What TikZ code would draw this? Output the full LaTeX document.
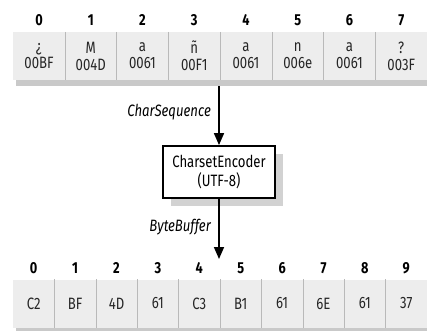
\documentclass[tikz,border=0pt]{standalone}
\usepackage{fontspec}
\setmainfont{Fira Sans}[FakeStretch=0.8]
\usetikzlibrary{arrows.meta}
\tikzset{
  cell/.style={fill=gray!14, draw=none, minimum height=48bp, inner sep=0pt, align=center,
    font=\fontsize{16.5}{17}\selectfont, text=black!85},
  tcell/.style={cell, minimum width=51.75bp},
  bcell/.style={cell, minimum width=41.4bp},
  idx/.style={font=\fontsize{16}{17}\selectfont\bfseries, inner sep=0pt},
  divider/.style={draw=gray!55, line width=0.8bp},
  band/.style={fill=gray!42, draw=none},
  arr/.style={line width=1.6bp, -{Triangle[length=12bp,width=10bp]}},
  lbl/.style={font=\fontsize{16.5}{17}\selectfont\itshape, inner sep=0pt, anchor=east},
  encbox/.style={draw=black, line width=1.8bp, fill=white, minimum width=112bp, minimum height=52bp,
    inner sep=0pt, align=center, font=\fontsize{16.5}{20}\selectfont},
}
\begin{document}
\begin{tikzpicture}[x=1bp,y=-1bp]
\useasboundingbox (0,0) rectangle (427,331);
% top row
\fill[band] (16,80) rectangle (430,86);
\foreach \i/\c/\u in {0/¿/00BF,1/M/004D,2/a/0061,3/ñ/00F1,4/a/0061,5/n/006e,6/a/0061,7/?/003F}{
  \node[tcell] (t\i) at ({39+51.75*\i},56) {\c\\\u};
  \node[idx] (ti\i) at ({39+51.75*\i},20) {\i};
}
\foreach \i in {0,...,6}{ \draw[divider] (t\i.north east) -- (t\i.south east); }
% encoder box
\fill[gray!35] (171,154) rectangle (283,206);
\node[encbox] (enc) at (219,172) {CharsetEncoder\\(UTF-8)};
\coordinate (a1) at (219,86);
\coordinate (a2) at (219,259);
\draw[arr] (a1) -- (enc.north);
\draw[arr] (enc.south) -- (a2);
\node[lbl] (cs) at (211,112) {CharSequence};
\node[lbl] (bb) at (211,227) {ByteBuffer};
% bottom row
\fill[band] (16,327) rectangle (430,333);
\foreach \i/\c in {0/C2,1/BF,2/4D,3/61,4/C3,5/B1,6/61,7/6E,8/61,9/37}{
  \node[bcell] (b\i) at ({33.7+41.4*\i},303.5) {\c};
  \node[idx] (bi\i) at ({33.7+41.4*\i},268) {\i};
}
\foreach \i in {0,...,8}{ \draw[divider] (b\i.north east) -- (b\i.south east); }
\end{tikzpicture}
\end{document}
